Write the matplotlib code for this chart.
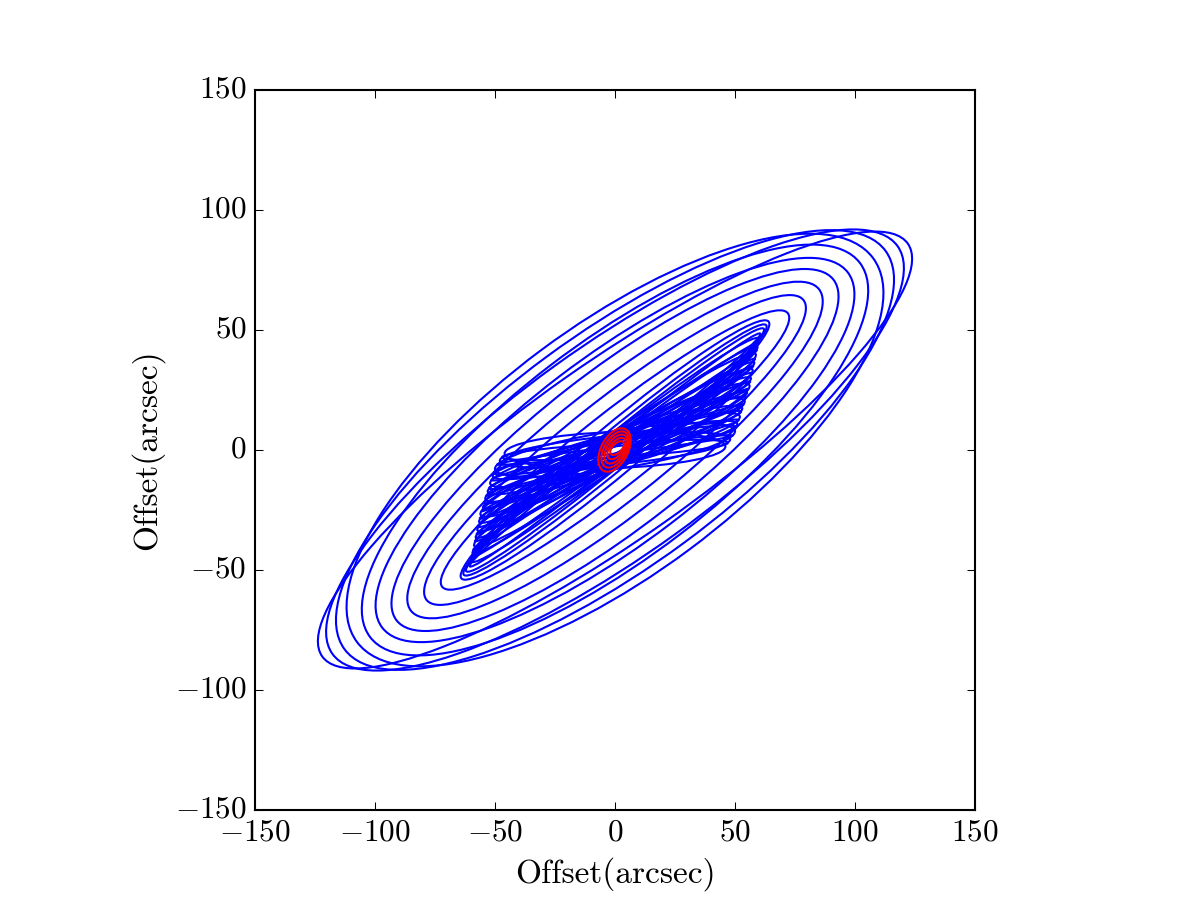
import numpy as np
import matplotlib
matplotlib.use("Agg")
import matplotlib.pyplot as plt
from matplotlib.patches import Ellipse

plt.style.use("classic")
plt.rcParams.update({
    "font.family": "serif",
    "font.serif": ["cmr10"],
    "mathtext.fontset": "cm",
    "axes.formatter.use_mathtext": True,
    "axes.unicode_minus": True,
    "font.size": 15,
})

# ---- data (data units, arcsec) ----
# outer nested loops: nose (end of major axis, upper-right), vertical half chord at x=0
outer_nose_x = [62, 63, 64, 72, 78.5, 85, 91, 97, 102, 107.5, 112.7, 117.7, 122]
outer_nose_y = [50.5, 52, 53.5, 57, 62.5, 67, 71, 74, 78, 80, 83, 85, 86]
outer_halfchord = [8, 10, 13, 19, 26, 33, 40, 47, 54, 62, 58, 52, 44]

# inner "bow-tie" thin loops
bow_nose_x = [46, 47, 48, 49, 50, 50.5, 51, 51.5, 52, 52.5,
              53, 53.5, 54, 54.5, 55, 55.5, 56, 56.3, 56.6, 57,
              57.3, 57.6, 58, 58.3, 58.6, 59, 59.3, 59.6, 60, 60.5]
bow_nose_y = [1.5, 3, 4.5, 6, 8, 9.5, 11, 12.5, 14, 16,
              17.5, 19, 20.5, 22, 24, 25.5, 27, 28.5, 30, 32,
              33.5, 35, 36.5, 38, 40, 41.5, 43, 44.5, 46.5, 48.5]
bow_halfchord = [7.5, 3, 6, 1.5, 8, 4, 5.5, 2.5, 7, 3.5,
                 6.5, 2, 7.5, 4.5, 5, 1.5, 8, 3, 6, 4,
                 7, 2.5, 5.5, 3.5, 8, 2, 6.5, 4.5, 7.5, 5]

# red central loops
red_cx = [-0.2, 0.1, 0.4, 0.7, 0.9]
red_cy = [0.0, 0.2, 0.4, 0.6, 0.8]
red_a = [9.8, 8.3, 6.8, 5.2, 3.6]
red_b = [5.6, 4.6, 3.7, 2.8, 1.9]
red_angle = [62, 60, 57, 52, 45]

xlim = (-150, 150)
ylim = (-150, 150)
ticks = [-150, -100, -50, 0, 50, 100, 150]


def nose_ellipse(nx, ny, h):
    a = np.hypot(nx, ny)
    th = np.arctan2(ny, nx)
    b = h * a * np.cos(th) / np.sqrt(a ** 2 - (h * np.sin(th)) ** 2)
    return a, b, np.degrees(th)


fig = plt.figure(figsize=(8, 6), dpi=150)
ax = fig.add_subplot(111)

for nx, ny, h in zip(outer_nose_x, outer_nose_y, outer_halfchord):
    a, b, ang = nose_ellipse(nx, ny, h)
    ax.add_patch(Ellipse((0, 0), 2 * a, 2 * b, angle=ang, fill=False,
                         edgecolor="b", linewidth=1.0))

for nx, ny, h in zip(bow_nose_x, bow_nose_y, bow_halfchord):
    a, b, ang = nose_ellipse(nx, ny, h)
    ax.add_patch(Ellipse((0, 0), 2 * a, 2 * b, angle=ang, fill=False,
                         edgecolor="b", linewidth=1.0))

for cx, cy, a, b, ang in zip(red_cx, red_cy, red_a, red_b, red_angle):
    ax.add_patch(Ellipse((cx, cy), 2 * a, 2 * b, angle=ang, fill=False,
                         edgecolor="r", linewidth=1.0, zorder=3))

ax.set_xlim(*xlim)
ax.set_ylim(*ylim)
ax.set_xticks(ticks)
ax.set_yticks(ticks)
ax.tick_params(labelsize=15)
ax.set_aspect("equal", adjustable="box")
ax.set_xlabel("Offset(arcsec)", fontsize=16)
ax.set_ylabel("Offset(arcsec)", fontsize=16)

fig.savefig("out.png", dpi=150, facecolor="white")
